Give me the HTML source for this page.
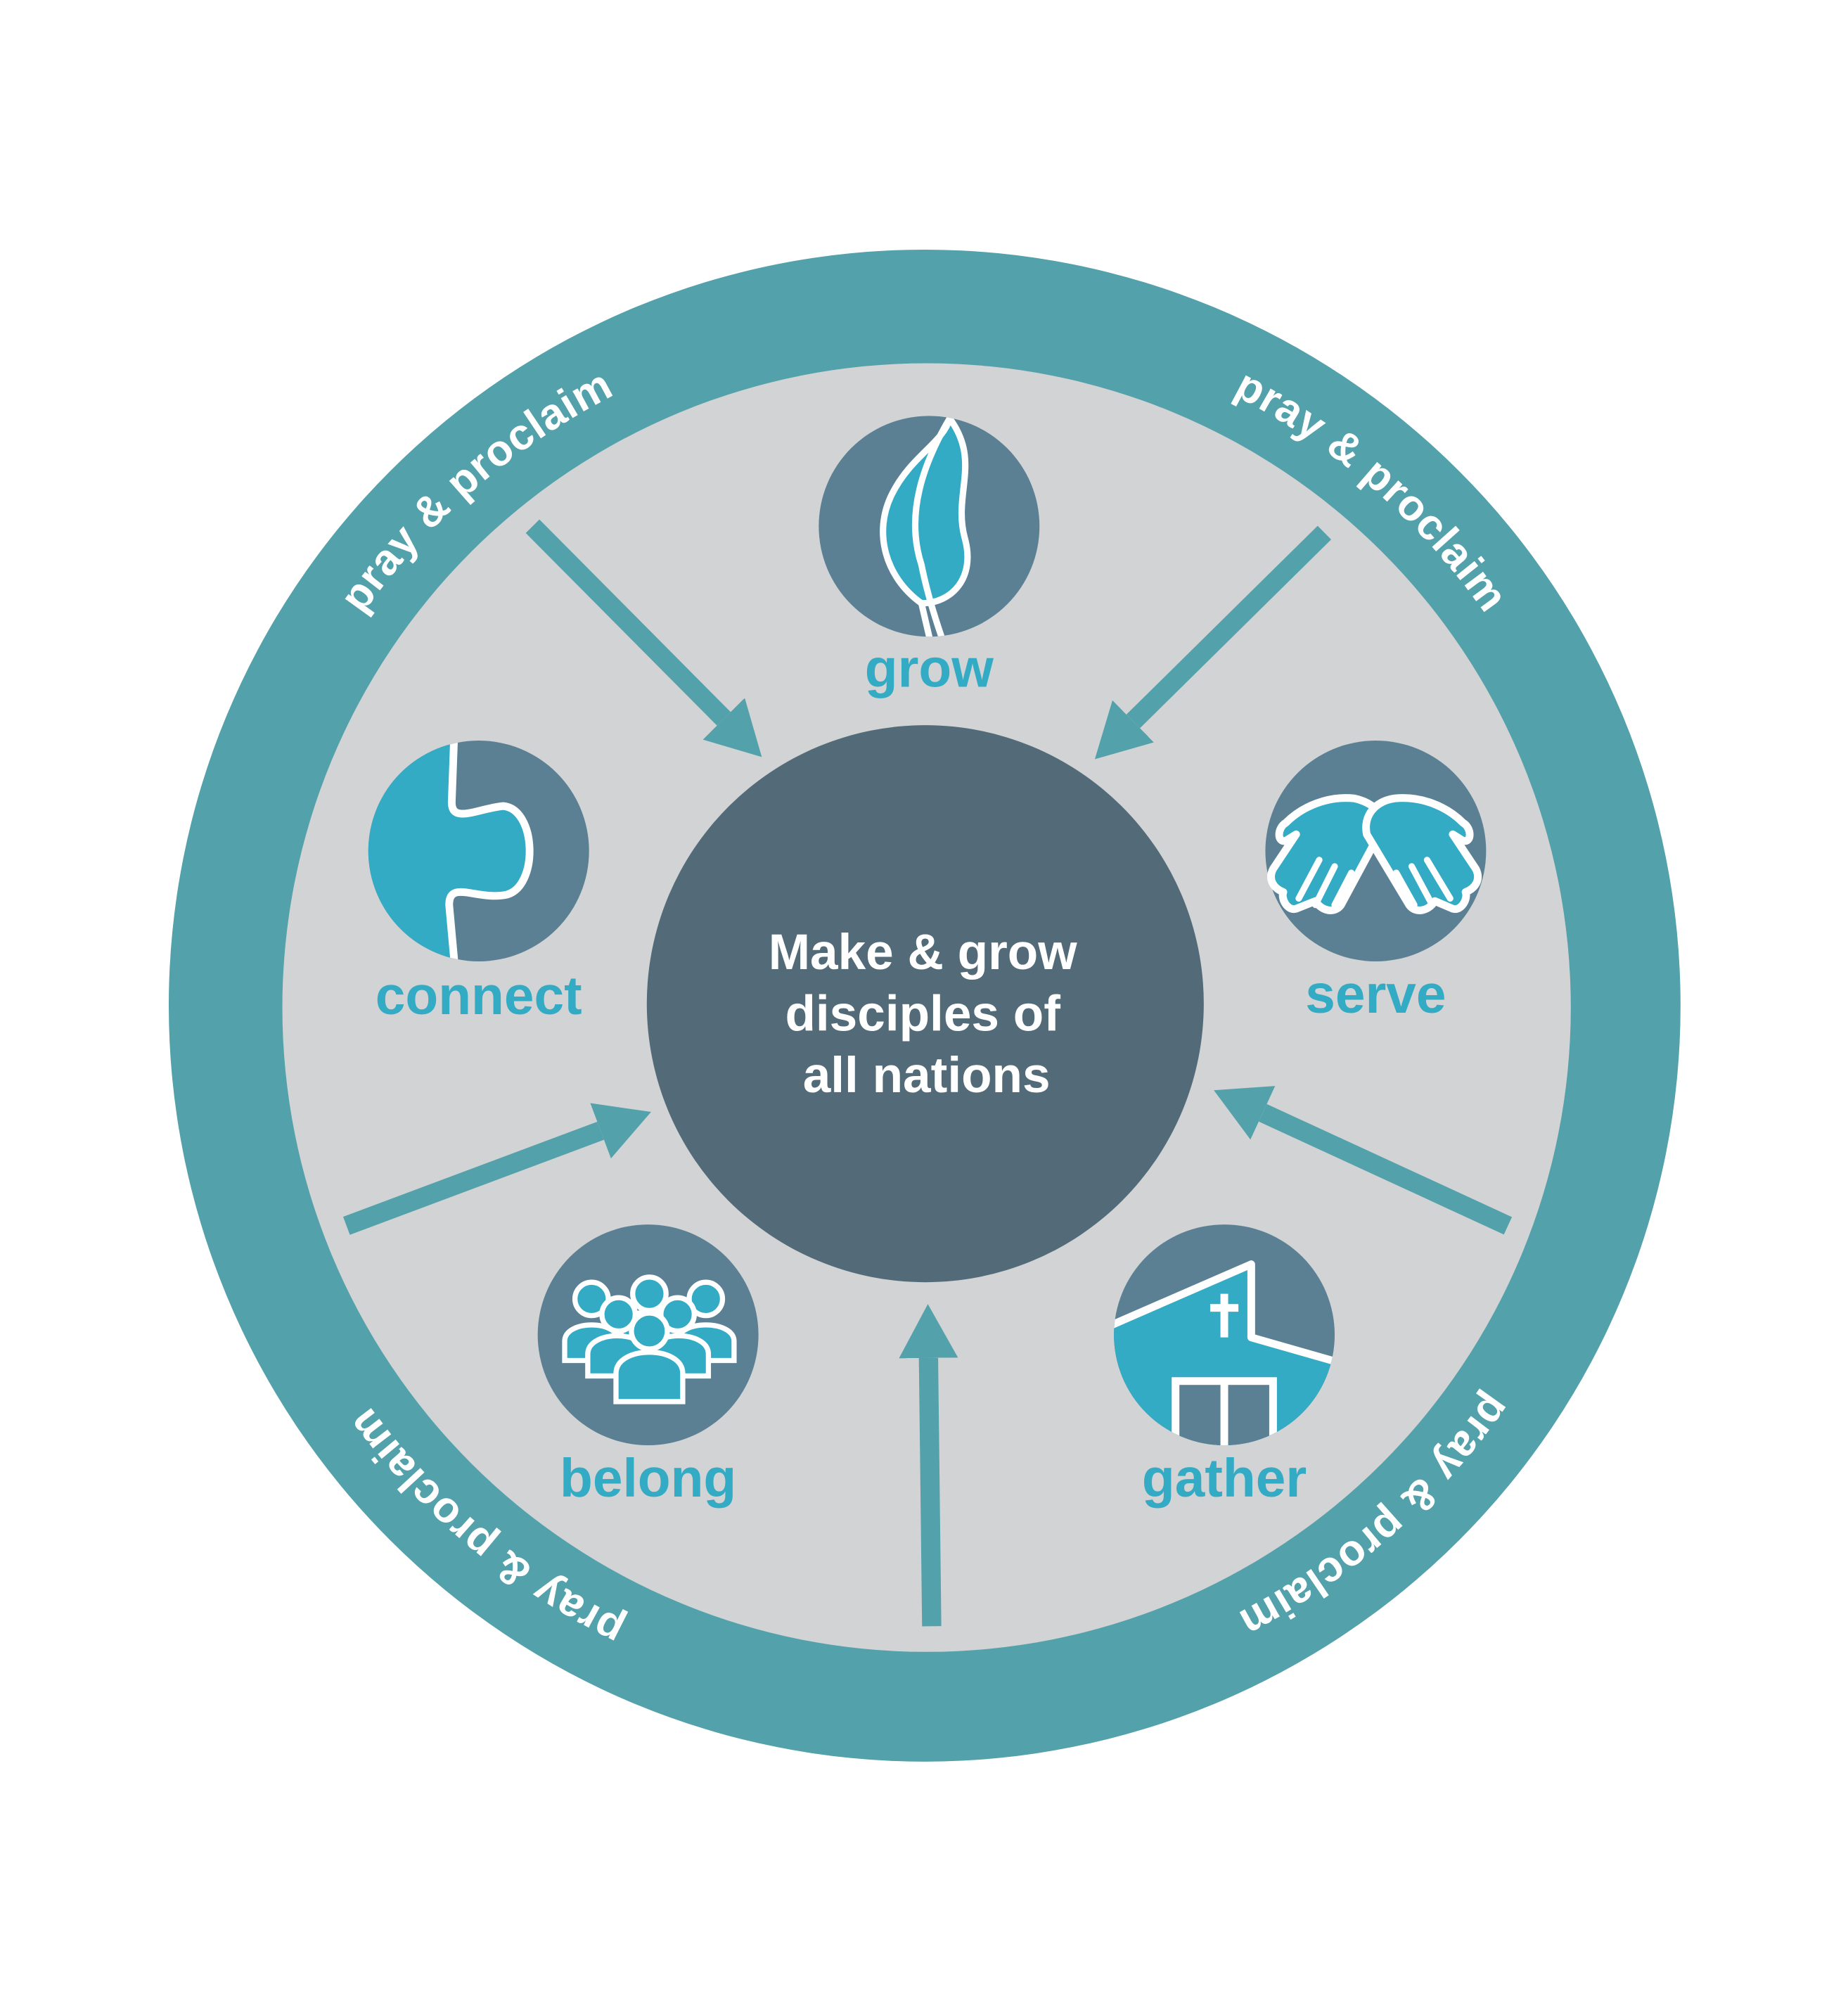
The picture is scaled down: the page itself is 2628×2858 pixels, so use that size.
<!DOCTYPE html>
<html><head><meta charset="utf-8"><style>
html,body{margin:0;padding:0;background:#fff;}
svg{display:block;}
</style></head><body>
<svg width="2628" height="2858" viewBox="0 0 1440 1566" xmlns="http://www.w3.org/2000/svg" font-family="'Liberation Sans', sans-serif">
<defs>
<marker id="ah" markerUnits="userSpaceOnUse" markerWidth="42" markerHeight="46" refX="0" refY="23" orient="auto">
<path d="M0,0 L42,23 L0,46 z" fill="#53a1aa"/>
</marker>
<path id="ring" d="M1253,783 A533,533 0 1,1 187,783 A533,533 0 1,1 1253,783"/>
<clipPath id="cC"><circle cx="373" cy="663" r="86"/></clipPath>
<clipPath id="cG"><circle cx="954" cy="1040" r="86"/></clipPath>
<clipPath id="cL"><circle cx="724" cy="410" r="86"/></clipPath>
</defs>
<rect width="1440" height="1566" fill="#fff"/>
<circle cx="720.5" cy="783.5" r="589" fill="#53a1aa"/>
<circle cx="722" cy="785" r="502" fill="#d1d3d4"/>
<g fill="#fff" font-weight="bold" font-size="34" letter-spacing="0.5">
<text><textPath href="#ring" startOffset="2130" text-anchor="middle">pray &amp; proclaim</textPath></text>
<text><textPath href="#ring" startOffset="2893" text-anchor="middle">pray &amp; proclaim</textPath></text>
<text><textPath href="#ring" startOffset="452" text-anchor="middle">pray &amp; proclaim</textPath></text>
<text><textPath href="#ring" startOffset="1209" text-anchor="middle">pray &amp; proclaim</textPath></text>
</g>
<circle cx="721" cy="782" r="217" fill="#536b78"/>
<g fill="#fff" font-weight="bold" font-size="39" text-anchor="middle">
<text x="719" y="755">Make &amp; grow</text>
<text x="719" y="803">disciples of</text>
<text x="722" y="851">all nations</text>
</g>
<g stroke="#53a1aa" stroke-width="15" marker-end="url(#ah)">
<line x1="415" y1="410" x2="564" y2="560"/>
<line x1="1032" y1="415" x2="883" y2="562"/>
<line x1="270" y1="955" x2="468" y2="881"/>
<line x1="1175" y1="955" x2="984" y2="867"/>
<line x1="726" y1="1267" x2="723.5" y2="1058"/>
</g>
<g fill="#5b8094">
<circle cx="724" cy="410" r="86"/>
<circle cx="373" cy="663" r="86"/>
<circle cx="1072" cy="663" r="86"/>
<circle cx="505" cy="1040" r="86"/>
<circle cx="954" cy="1040" r="86"/>
</g>
<g clip-path="url(#cL)" stroke="#fff" stroke-width="5" fill="#34abc4" stroke-linejoin="round">
<path d="M718,470 C690,450 680,415 695,385 C710,355 735,345 740,326 C765,360 742,385 752,420 C760,450 742,470 718,470 Z"/>
<path d="M740,326 C720,360 705,400 718,440 C722,460 728,480 735,500" fill="none"/>
<path d="M718,470 L725,500" fill="none"/>
</g>
<g clip-path="url(#cC)">
<path d="M354,570 L352,625 C352,642 372,630 392,628 C418,630 420,690 395,697 C372,702 350,685 350,705 L355,760 L270,760 L270,570 Z" fill="#34abc4" stroke="#fff" stroke-width="6"/>
</g>
<g fill="#34abc4" stroke="#fff" stroke-width="6" stroke-linejoin="round" stroke-linecap="round">
<path d="M1002,641 C1015,628 1035,620 1055,622 C1065,624 1075,630 1080,640 L1045,705 C1040,712 1030,710 1025,702 L1010,708 C1003,710 998,700 1000,695 C992,692 988,685 992,677 L1010,650 L1002,655 C995,657 995,645 1002,641 Z"/>
<path d="M1140,641 C1127,628 1107,620 1087,622 C1072,624 1062,635 1065,650 L1098,705 C1103,712 1113,710 1118,702 L1132,708 C1139,710 1144,700 1142,695 C1150,692 1154,685 1150,677 L1132,650 L1140,655 C1147,657 1147,645 1140,641 Z"/>
</g>
<g stroke="#fff" stroke-width="5" stroke-linecap="round">
<line x1="1028" y1="670" x2="1012" y2="700"/><line x1="1040" y1="675" x2="1025" y2="705"/><line x1="1053" y1="680" x2="1040" y2="705"/>
<line x1="1112" y1="670" x2="1130" y2="700"/><line x1="1100" y1="675" x2="1116" y2="705"/><line x1="1088" y1="680" x2="1102" y2="705"/>
</g>
<g fill="#34abc4" stroke="#fff" stroke-width="4">
<path d="M440,1060 L440,1045 C440,1028 482,1028 482,1045 L482,1060 Z"/><circle cx="461" cy="1012" r="13"/>
<path d="M528,1060 L528,1045 C528,1028 572,1028 572,1045 L572,1060 Z"/><circle cx="550" cy="1012" r="13"/>
<path d="M484,1050 L484,1035 C484,1018 528,1018 528,1035 L528,1050 Z"/><circle cx="506" cy="1008" r="13"/>
<path d="M458,1072 L458,1055 C458,1036 504,1036 504,1055 L504,1072 Z"/><circle cx="482" cy="1024" r="13"/>
<path d="M506,1072 L506,1055 C506,1036 552,1036 552,1055 L552,1072 Z"/><circle cx="528" cy="1024" r="13"/>
<path d="M480,1092 L480,1070 C480,1048 532,1048 532,1070 L532,1092 Z"/><circle cx="506" cy="1037" r="14"/>
</g>
<g clip-path="url(#cG)">
<path d="M860,1035 L975,985 L975,1042 L1045,1062 L1045,1140 L860,1140 Z" fill="#34abc4" stroke="#fff" stroke-width="6" stroke-linejoin="round"/>
<rect x="916" y="1076" width="76" height="60" fill="#5b8094" stroke="#fff" stroke-width="6"/>
<line x1="954" y1="1076" x2="954" y2="1140" stroke="#fff" stroke-width="6"/>
<line x1="954" y1="1008" x2="954" y2="1042" stroke="#fff" stroke-width="6"/>
<line x1="943" y1="1019" x2="965" y2="1019" stroke="#fff" stroke-width="6"/>
</g>
<g fill="#34abc4" font-weight="bold" font-size="42" text-anchor="middle">
<text x="724" y="535">grow</text>
<text x="373" y="790">connect</text>
<text x="1072" y="789">serve</text>
<text x="505" y="1166">belong</text>
<text x="954" y="1166">gather</text>
</g>
</svg>
</body></html>
